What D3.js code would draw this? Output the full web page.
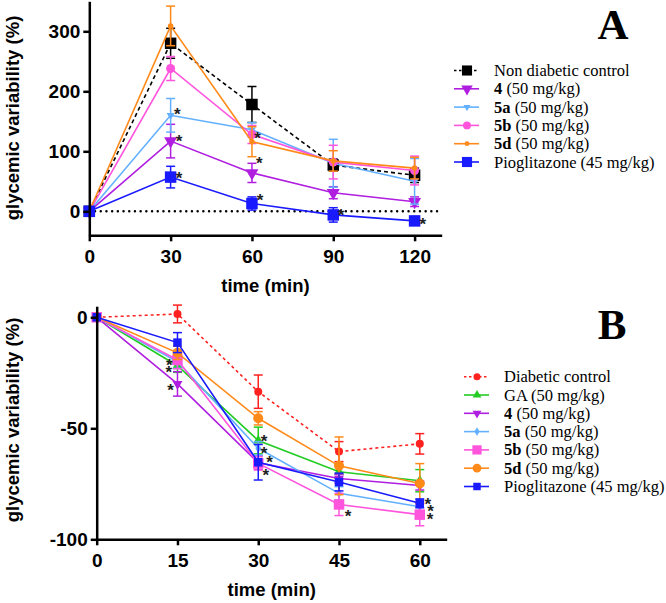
<!DOCTYPE html>
<html><head><meta charset="utf-8">
<script src="https://cdn.jsdelivr.net/npm/d3@7"></script>
<style>body{margin:0;background:#fff}svg{display:block}</style>
</head><body>
<script>
// ---------- Panel A data ----------
const timesA = [0, 30, 60, 90, 120];
const ticksAx = [0, 30, 60, 90, 120];
const ticksAy = [0, 100, 200, 300];
const nonDiabeticA = [0, 280, 178, 77, 60];
const nonDiabeticAErr = [0, 25, 30, 10, 12];
const c4A = [0, 117, 64, 31, 16];
const c4AErr = [0, 28, 16, 10, 8];
const c5aA = [0, 160, 136, 80, 50];
const c5aAErr = [0, 28, 12, 40, 38];
const c5bA = [0, 238, 128, 82, 68];
const c5bAErr = [0, 20, 15, 28, 24];
const c5dA = [0, 309, 116, 84, 72];
const c5dAErr = [0, 33, 25, 17, 18];
const pioA = [0, 57, 13, -6, -16];
const pioAErr = [0, 18, 11, 12, 3];
const starsA = [[32.5,168.8],[33.1,124.3],[33.1,61.7],[62.1,128.3],[62.7,87.2],[63,25.5],[92.9,1],[123,-14.5]];

// ---------- Panel B data ----------
const timesB = [0, 15, 30, 45, 60];
const ticksBx = [0, 15, 30, 45, 60];
const ticksBy = [0, -50, -100];
const diabeticB = [0, 1.5, -33.5, -60.5, -57];
const diabeticBErr = [0, 4, 7.5, 4.5, 4.6];
const gaB = [0, -21.8, -55.5, -69.6, -73.6];
const gaBErr = [0, 3, 6, 3, 5];
const c4B = [0, -30, -65.5, -72.6, -75.8];
const c4BErr = [0, 5.5, 3, 2, 2];
const c5aB = [0, -20, -59, -79.3, -85.3];
const c5aBErr = [0, 3, 3, 3, 2];
const c5bB = [0, -19.2, -65.8, -84.3, -88.9];
const c5bBErr = [0, 4, 3, 5, 5];
const c5dB = [0, -16, -45.5, -66.9, -74.9];
const c5dBErr = [0, 3, 3, 13, 9];
const pioB = [0, -11.4, -65.3, -74.2, -83.8];
const pioBErr = [0, 4.5, 8, 4, 2];
const starsB = [[13.5,-19.7],[13.4,-22.7],[13.7,-31],[31.1,-54.1],[31.1,-59.5],[32.1,-63.6],[31.4,-69.3],[46.7,-87.7],[61.5,-82.1],[62,-85.4],[61.9,-89.2]];

const seriesA = [
  {name:"Non diabetic control", bold:"", vals:nonDiabeticA, err:nonDiabeticAErr, color:"#000000", sym:"square", size:11.5, dash:"4,3"},
  {name:" (50 mg/kg)", bold:"4", vals:c4A, err:c4AErr, color:"#b01ee0", sym:"down", size:13},
  {name:" (50 mg/kg)", bold:"5a", vals:c5aA, err:c5aAErr, color:"#62b0ff", sym:"down", size:8},
  {name:" (50 mg/kg)", bold:"5b", vals:c5bA, err:c5bAErr, color:"#ff55dd", sym:"circle", size:9},
  {name:" (50 mg/kg)", bold:"5d", vals:c5dA, err:c5dAErr, color:"#ff8a1a", sym:"circle", size:5.5},
  {name:"Pioglitazone (45 mg/kg)", bold:"", vals:pioA, err:pioAErr, color:"#1a1aff", sym:"square", size:11.5}
];
const seriesB = [
  {name:"Diabetic control", bold:"", vals:diabeticB, err:diabeticBErr, color:"#ff2020", sym:"circle", size:8, dash:"3,3"},
  {name:"GA (50 mg/kg)", bold:"", vals:gaB, err:gaBErr, color:"#22cc22", sym:"up", size:10},
  {name:" (50 mg/kg)", bold:"4", vals:c4B, err:c4BErr, color:"#b01ee0", sym:"down", size:10},
  {name:" (50 mg/kg)", bold:"5a", vals:c5aB, err:c5aBErr, color:"#62b0ff", sym:"diamond", size:7},
  {name:" (50 mg/kg)", bold:"5b", vals:c5bB, err:c5bBErr, color:"#ff55dd", sym:"square", size:10.5},
  {name:" (50 mg/kg)", bold:"5d", vals:c5dB, err:c5dBErr, color:"#ff8a1a", sym:"circle", size:10},
  {name:"Pioglitazone (45 mg/kg)", bold:"", vals:pioB, err:pioBErr, color:"#1a1aff", sym:"square", size:8.5}
];

const svg = d3.select("body").append("svg").attr("width",666).attr("height",603);

function symbolPath(sym, s){
  if(sym==="square") return d3.symbol(d3.symbolSquare, s*s)();
  if(sym==="circle") return d3.symbol(d3.symbolCircle, Math.PI*s*s/4)();
  if(sym==="down"||sym==="up") return d3.symbol(d3.symbolTriangle, s*s*Math.sqrt(3)/4)();
  if(sym==="diamond") return d3.symbol(d3.symbolDiamond, s*s*0.6)();
}
function drawMarker(g, sym, s, color, x, y){
  g.append("path").attr("d", symbolPath(sym,s))
   .attr("transform", `translate(${x},${y})` + (sym==="down"?" rotate(180)":""))
   .attr("fill", color);
}

function panel(cfg){
  const {times, series, xDom, xRange, yDom, yRange, xt, yt, stars, label, labelPos, legendX, legendY0, yTitleCenter, zeroLine} = cfg;
  const x = d3.scaleLinear().domain(xDom).range(xRange);
  const y = d3.scaleLinear().domain(yDom).range(yRange);
  const g = svg.append("g");

  if(zeroLine){
    g.append("line").attr("x1",x(xDom[0])).attr("x2",x(xDom[1])).attr("y1",y(0)).attr("y2",y(0))
     .attr("stroke","#000").attr("stroke-width",2.4).attr("stroke-dasharray","0.1,5.6").attr("stroke-linecap","round");
  }

  const line = d3.line().x((d,i)=>x(times[i])).y(d=>y(d));
  series.forEach(s=>{
    const sg = g.append("g");
    // error bars
    s.vals.forEach((v,i)=>{
      const e = s.err[i]; if(!e) return;
      const cx = x(times[i]);
      sg.append("line").attr("x1",cx).attr("x2",cx).attr("y1",y(v+e)).attr("y2",y(v-e)).attr("stroke",s.color).attr("stroke-width",1.5);
      [v+e, v-e].forEach(c=>sg.append("line").attr("x1",cx-4.5).attr("x2",cx+4.5).attr("y1",y(c)).attr("y2",y(c)).attr("stroke",s.color).attr("stroke-width",1.5));
    });
    sg.append("path").attr("d", line(s.vals)).attr("fill","none").attr("stroke",s.color)
      .attr("stroke-width",1.6).attr("stroke-dasharray", s.dash||null);
    s.vals.forEach((v,i)=>drawMarker(sg, s.sym, s.size, s.color, x(times[i]), y(v)));
  });

  // asterisks
  stars.forEach(([t,v])=>{
    g.append("text").attr("x",x(t)).attr("y",y(v)+10).attr("text-anchor","middle")
     .attr("font-family","Liberation Sans, Arial, sans-serif").attr("font-weight","bold").attr("font-size",17)
     .attr("fill","#222").text("*");
  });

  // axes
  const font = "Liberation Sans, Arial, sans-serif";
  const xa = g.append("g").attr("transform",`translate(0,${yRange[0]})`)
    .call(d3.axisBottom(x).tickValues(xt).tickSize(6).tickPadding(8).tickSizeOuter(0));
  const ya = g.append("g").attr("transform",`translate(${xRange[0]},0)`)
    .call(d3.axisLeft(y).tickValues(yt).tickSize(6).tickPadding(3).tickSizeOuter(0));
  [xa,ya].forEach(a=>{
    a.select(".domain").attr("stroke","#000").attr("stroke-width",2.5);
    a.selectAll(".tick line").attr("stroke","#000").attr("stroke-width",2.5);
    a.selectAll(".tick text").attr("font-family",font).attr("font-weight","bold").attr("font-size",19).attr("fill","#000");
  });
  ya.selectAll(".tick text").text(d=>d3.format("d")(d).replace("−","-"));

  g.append("text").attr("x",(xRange[0]+xRange[1])/2).attr("y",yRange[0]+57).attr("text-anchor","middle")
   .attr("font-family",font).attr("font-weight","bold").attr("font-size",18.5).text("time (min)");
  g.append("text").attr("transform",`translate(19,${yTitleCenter}) rotate(-90)`).attr("text-anchor","middle")
   .attr("font-family",font).attr("font-weight","bold").attr("font-size",18.5).text("glycemic variability (%)");

  // panel label
  g.append("text").attr("x",labelPos[0]).attr("y",labelPos[1]).attr("text-anchor","middle")
   .attr("font-family","Liberation Serif, Times New Roman, serif").attr("font-weight","bold").attr("font-size",43).text(label);

  // legend
  const step = 18.3;
  series.forEach((s,i)=>{
    const cy = legendY0 + i*step;
    g.append("line").attr("x1",legendX-13).attr("x2",legendX+12).attr("y1",cy).attr("y2",cy)
     .attr("stroke",s.color).attr("stroke-width",1.6).attr("stroke-dasharray", s.dash?"2.5,2.5":null);
    drawMarker(g, s.sym, s.size*0.88, s.color, legendX, cy);
    const t = g.append("text").attr("x",legendX+27).attr("y",cy+5.5)
      .attr("font-family","Liberation Serif, Times New Roman, serif").attr("font-size",16.5).attr("fill","#000");
    if(s.bold) t.append("tspan").attr("font-weight","bold").text(s.bold);
    t.append("tspan").text(s.name);
  });
}

panel({times:timesA, series:seriesA, xDom:[0,130], xRange:[89.3,441.7], yDom:[-40,350], yRange:[235.3,1.3],
  xt:ticksAx, yt:ticksAy, stars:starsA, label:"A", labelPos:[613,39], legendX:467, legendY0:70.5, yTitleCenter:118, zeroLine:true});
panel({times:timesB, series:seriesB, xDom:[0,65], xRange:[96.7,446.7], yDom:[-100,5], yRange:[539.3,306.2],
  xt:ticksBx, yt:ticksBy, stars:starsB, label:"B", labelPos:[612,339], legendX:477, legendY0:376.7, yTitleCenter:420, zeroLine:false});
</script>
</body></html>
